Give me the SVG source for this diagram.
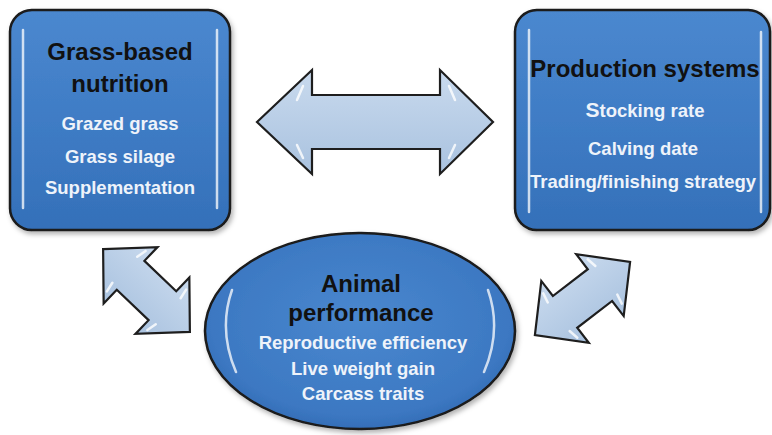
<svg xmlns="http://www.w3.org/2000/svg" width="772" height="435" viewBox="0 0 772 435">
<defs>
  <linearGradient id="boxg" x1="0" y1="0" x2="0" y2="1">
    <stop offset="0" stop-color="#4b88cf"/>
    <stop offset="0.5" stop-color="#3f7cc5"/>
    <stop offset="1" stop-color="#3470b9"/>
  </linearGradient>
  <radialGradient id="ellg" cx="0.5" cy="0.45" r="0.6">
    <stop offset="0" stop-color="#4a88cf"/>
    <stop offset="0.8" stop-color="#3c78c2"/>
    <stop offset="1" stop-color="#2f67b0"/>
  </radialGradient>
  <linearGradient id="arrg" x1="0" y1="0" x2="0" y2="1">
    <stop offset="0" stop-color="#c9daee"/>
    <stop offset="1" stop-color="#a9c2df"/>
  </linearGradient>
  <filter id="sh" x="-10%" y="-10%" width="130%" height="130%">
    <feDropShadow dx="2" dy="3" stdDeviation="2.5" flood-color="#000" flood-opacity="0.3"/>
  </filter>
</defs>
<style>
  .box { fill: url(#boxg); stroke: #1a1a1a; stroke-width: 2.5; }
  .ell { fill: url(#ellg); stroke: #1a1a1a; stroke-width: 2.5; }
  .arrow { fill: url(#arrg); stroke: #1e1e1e; stroke-width: 2.2; stroke-linejoin: miter; }
  .gloss { fill: none; stroke: #ffffff; stroke-opacity: 0.75; stroke-width: 2.5; stroke-linecap: round; }
  .ahl { fill: none; stroke: #ffffff; stroke-opacity: 0.8; stroke-width: 2.5; stroke-linecap: round; }
  .title { font-family: "Liberation Sans", Arial, sans-serif; font-weight: bold; font-size: 24px; fill: #111111; text-anchor: middle; }
  .sub { font-family: "Liberation Sans", Arial, sans-serif; font-weight: bold; font-size: 18.5px; fill: #eef3fa; text-anchor: middle; }
</style>

<g id="connectors">
  <g id="arrow-top">
    <path class="arrow" d="M257,122 L312,70 L312,95 L440,95 L440,70 L493,122 L440,174 L440,149 L312,149 L312,174 Z"/>
    <path class="ahl" d="M303,86 L297,100 M303,158 L297,145 M449,86 L455,100 M449,158 L455,145"/>
  </g>
  <g id="arrow-left" transform="translate(146.5,290.5) rotate(43.7)">
    <path class="arrow" d="M-60,0 L-22,-39 L-22,-20 L22,-20 L22,-39 L60,0 L22,39 L22,20 L-22,20 L-22,39 Z"/>
    <path class="ahl" d="M-28,-28 L-30,-18 M-28,28 L-30,18 M28,-28 L30,-18 M28,28 L30,18"/>
  </g>
  <g id="arrow-right" transform="translate(582.5,298.5) rotate(-37.5)">
    <path class="arrow" d="M-60,0 L-22,-39 L-22,-20 L22,-20 L22,-39 L60,0 L22,39 L22,20 L-22,20 L-22,39 Z"/>
    <path class="ahl" d="M-28,-28 L-30,-18 M-28,28 L-30,18 M28,-28 L30,-18 M28,28 L30,18"/>
  </g>
</g>

<g id="node-grass">
  <rect class="box" x="10" y="10" width="220" height="220" rx="22" filter="url(#sh)"/>
  <path class="gloss" d="M23,30 L23,208 M217,30 L217,208"/>
  <text class="title" x="120" y="60">Grass-based</text>
  <text class="title" x="120" y="92">nutrition</text>
  <text class="sub" x="120" y="130">Grazed grass</text>
  <text class="sub" x="120" y="163">Grass silage</text>
  <text class="sub" x="120" y="194">Supplementation</text>
</g>

<g id="node-production">
  <rect class="box" x="515" y="10" width="255" height="220" rx="22" filter="url(#sh)"/>
  <path class="gloss" d="M529,30 L529,212 M761,32 L761,212"/>
  <text class="title" x="645" y="77">Production systems</text>
  <text class="sub" x="645" y="117"><tspan font-size="21">S</tspan>tocking rate</text>
  <text class="sub" x="643" y="155">Calving date</text>
  <text class="sub" x="643" y="188">Trading/finishing strategy</text>
</g>

<g id="node-animal">
  <ellipse class="ell" cx="360" cy="331" rx="155" ry="98" filter="url(#sh)"/>
  <path class="gloss" d="M232,290 Q218,330 236,372 M488,290 Q502,330 484,372"/>
  <text class="title" x="361" y="292">Animal</text>
  <text class="title" x="361" y="321">performance</text>
  <text class="sub" x="363" y="349">Reproductive efficiency</text>
  <text class="sub" x="363" y="375">Live weight gain</text>
  <text class="sub" x="363" y="400">Carcass traits</text>
</g>
</svg>
